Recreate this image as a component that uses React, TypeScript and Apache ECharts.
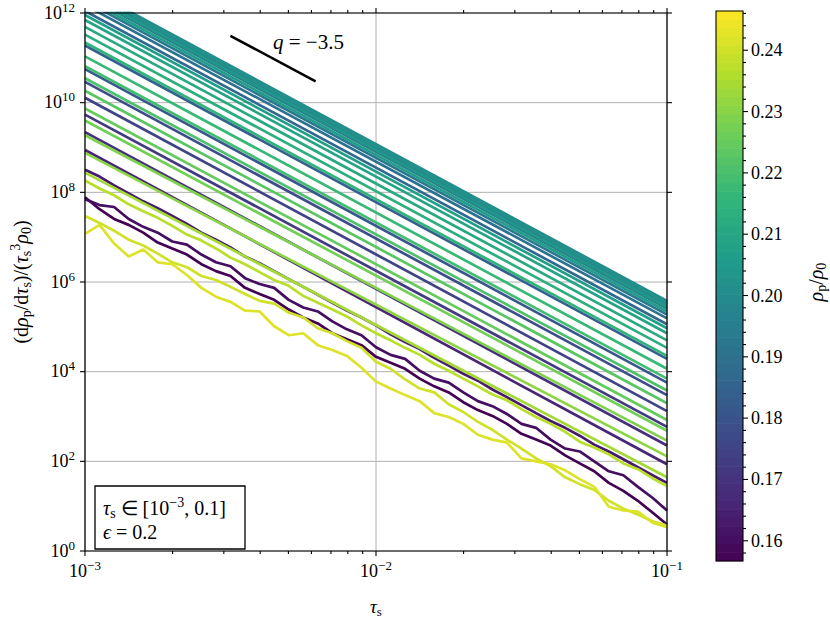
import React, { useEffect, useRef } from 'react';
import * as echarts from 'echarts';

const FONT = 'Liberation Serif';

// ---------------- data ----------------
// tau_s sample grid used by the noisy curves
const TAU = [
  0.001, 0.001122, 0.001259, 0.001413, 0.001585, 0.001778, 0.001995, 0.002239, 0.002512, 0.002818,
  0.003162, 0.003548, 0.003981, 0.004467, 0.005012, 0.005623, 0.00631, 0.007079, 0.007943, 0.008913,
  0.01, 0.01122, 0.01259, 0.01413, 0.01585, 0.01778, 0.01995, 0.02239, 0.02512, 0.02818,
  0.03162, 0.03548, 0.03981, 0.04467, 0.05012, 0.05623, 0.0631, 0.07079, 0.07943, 0.08913, 0.1,
];
const TAU_ENDS = [0.001, 0.1];

// noisy curves (values at TAU)
const CURVE_242 = [1.19e7, 1.88e7, 7.2e6, 3.7e6, 5.3e6, 2.75e6, 2.49e6, 1.43e6, 7.4e5, 4.7e5, 3.6e5, 2.3e5, 2.2e5, 1.03e5, 6.5e4, 7.2e4, 3.9e4, 3.05e4, 2.25e4, 1.22e4, 6.0e3, 4.2e3, 3.0e3, 2.2e3, 1.19e3, 975, 684, 392, 305, 262, 116, 100, 86, 63, 40, 27, 9.7, 8.0, 7.6, 4.3, 3.4];
const CURVE_240 = [2.97e7, 2.08e7, 1.39e7, 8.8e6, 6.5e6, 4.3e6, 2.75e6, 2.14e6, 1.36e6, 1.11e6, 7.8e5, 5.4e5, 3.8e5, 3.3e5, 2.08e5, 1.62e5, 9.3e4, 7.2e4, 4.8e4, 3.4e4, 1.66e4, 1.16e4, 6.7e3, 4.2e3, 3.45e3, 1.88e3, 1.26e3, 757, 505, 305, 193, 116, 78, 44, 31, 23, 13.2, 8.8, 6.5, 4.6, 3.7];
const CURVE_237 = [1.84e8, 1.22e8, 8.6e7, 5.4e7, 3.8e7, 2.7e7, 1.79e7, 1.14e7, 8.4e6, 5.6e6, 3.5e6, 2.49e6, 1.66e6, 1.11e6, 8.2e5, 4.9e5, 3.45e5, 2.43e5, 1.7e5, 1.08e5, 7.2e4, 5.0e4, 3.4e4, 2.37e4, 1.5e4, 1.05e4, 7.0e3, 4.7e3, 3.1e3, 2.3e3, 1.46e3, 975, 684, 456, 275, 203, 143, 90, 67, 42, 28];
const CURVE_163 = [3.2e8, 2.25e8, 1.43e8, 9.5e7, 6.3e7, 4.4e7, 2.97e7, 1.98e7, 1.26e7, 8.8e6, 5.9e6, 3.7e6, 2.62e6, 1.75e6, 1.16e6, 7.8e5, 5.2e5, 3.45e5, 2.3e5, 1.62e5, 1.08e5, 6.8e4, 4.6e4, 3.2e4, 2.03e4, 1.36e4, 9.0e3, 6.3e3, 4.0e3, 2.7e3, 1.79e3, 1.19e3, 796, 559, 373, 236, 166, 111, 74, 49, 33];
const CURVE_160 = [7.0e7, 5.2e7, 4.7e7, 2.55e7, 1.7e7, 1.26e7, 8.0e6, 6.8e6, 4.1e6, 2.75e6, 2.25e6, 1.22e6, 9.0e5, 7.4e5, 4.0e5, 2.7e5, 2.2e5, 1.32e5, 8.8e4, 6.5e4, 3.5e4, 2.37e4, 1.93e4, 1.05e4, 7.0e3, 5.7e3, 3.45e3, 2.2e3, 1.7e3, 1.14e3, 684, 559, 305, 193, 166, 100, 60, 49, 27, 15.4, 8.0];
const CURVE_157 = [7.8e7, 4.2e7, 2.55e7, 1.88e7, 1.26e7, 7.6e6, 5.6e6, 4.1e6, 2.49e6, 1.75e6, 1.36e6, 7.4e5, 5.4e5, 4.0e5, 2.43e5, 1.62e5, 1.19e5, 7.2e4, 5.3e4, 3.9e4, 2.14e4, 1.58e4, 1.16e4, 7.0e3, 4.7e3, 3.45e3, 2.08e3, 1.39e3, 1.03e3, 684, 412, 305, 225, 136, 90, 60, 33, 22, 13.2, 7.2, 3.9];
const NOISY_RHO = [0.242, 0.24, 0.237, 0.163, 0.16, 0.157];
const NOISY_CURVES = [CURVE_242, CURVE_240, CURVE_237, CURVE_163, CURVE_160, CURVE_157];

// smooth power-law curves: value at tau=1e-3 and at tau=0.1
const SMOOTH_RHO = [
  0.2, 0.202, 0.198, 0.204, 0.196, 0.206, 0.193, 0.19, 0.187, 0.207,
  0.209, 0.211, 0.213, 0.215, 0.184, 0.217, 0.219, 0.181, 0.221, 0.178,
  0.223, 0.175, 0.225, 0.172, 0.227, 0.169, 0.229, 0.166, 0.231, 0.234,
];
const SMOOTH_START = [
  3.7e12, 3.4e12, 3.05e12, 2.75e12, 2.5e12, 2.14e12, 1.84e12, 1.5e12, 1.11e12, 9.0e11,
  7.0e11, 4.9e11, 3.3e11, 2.2e11, 1.88e11, 1.08e11, 6.5e10, 5.6e10, 3.5e10, 2.9e10,
  1.84e10, 1.29e10, 7.4e9, 5.4e9, 4.0e9, 2.2e9, 1.88e9, 8.8e8, 7.6e8, 2.75e8,
];
const SMOOTH_END = [
  3.8e5, 3.45e5, 3.1e5, 2.8e5, 2.55e5, 2.2e5, 1.88e5, 1.54e5, 1.14e5, 9.3e4,
  7.2e4, 5.0e4, 3.4e4, 2.25e4, 1.93e4, 1.16e4, 7.0e3, 5.7e3, 3.8e3, 3.0e3,
  1.98e3, 1.32e3, 838, 588, 480, 225, 290, 86, 129, 44,
];

// slope guide q = -3.5
const SLOPE_TAU = [0.00316, 0.0062];
const SLOPE_VAL = [3.1e11, 3.0e10];

// axes
const X_RANGE = [0.001, 0.1];
const Y_RANGE = [1, 1e12];
const X_MAJOR = [0.001, 0.01, 0.1];
const X_MAJOR_EXP = ['\u22123', '\u22122', '\u22121'];
const X_MINOR = [0.002, 0.003, 0.004, 0.005, 0.006, 0.007, 0.008, 0.009, 0.02, 0.03, 0.04, 0.05, 0.06, 0.07, 0.08, 0.09];
const Y_MAJOR = [1, 1e2, 1e4, 1e6, 1e8, 1e10, 1e12];
const Y_MAJOR_EXP = ['0', '2', '4', '6', '8', '10', '12'];
const CB_RANGE = [0.1567, 0.2464];
const CB_TICKS = [0.16, 0.17, 0.18, 0.19, 0.2, 0.21, 0.22, 0.23, 0.24];
const CB_LABELS = ['0.16', '0.17', '0.18', '0.19', '0.20', '0.21', '0.22', '0.23', '0.24'];

// ---------------- colours ----------------
const VIRIDIS = ['#440154', '#482878', '#3e4989', '#31688e', '#26828e', '#1f9e89', '#35b779', '#6ece58', '#b5de2b', '#fde725'];
function hexRgb(h: string) {
  return [parseInt(h.slice(1, 3), 16), parseInt(h.slice(3, 5), 16), parseInt(h.slice(5, 7), 16)];
}
function viridis(t: number) {
  const tt = Math.min(1, Math.max(0, t));
  const p = tt * (VIRIDIS.length - 1);
  const i = Math.min(Math.floor(p), VIRIDIS.length - 2);
  const f = p - i;
  const a = hexRgb(VIRIDIS[i]);
  const b = hexRgb(VIRIDIS[i + 1]);
  const c = a.map((v, k) => Math.round(v + (b[k] - v) * f));
  return `rgb(${c[0]},${c[1]},${c[2]})`;
}
const rhoColor = (r: number) => viridis((r - CB_RANGE[0]) / (CB_RANGE[1] - CB_RANGE[0]));

// ---------------- text styles ----------------
const TICK_RICH = {
  b: { fontFamily: FONT, fontSize: 18, lineHeight: 21, verticalAlign: 'bottom', color: '#000', fill: '#000' },
  s: { fontFamily: FONT, fontSize: 13, lineHeight: 13, verticalAlign: 'top', color: '#000', fill: '#000' },
};
const MATH_RICH = (size: number) => ({
  n: { fontFamily: FONT, fontSize: size, lineHeight: size + 5, verticalAlign: 'middle', color: '#000', fill: '#000' },
  g: { fontFamily: FONT, fontStyle: 'italic', fontSize: size, lineHeight: size + 5, verticalAlign: 'middle', color: '#000', fill: '#000' },
  sub: { fontFamily: FONT, fontSize: Math.round(size * 0.7), lineHeight: Math.round(size * 0.7), verticalAlign: 'bottom', color: '#000', fill: '#000' },
  sup: { fontFamily: FONT, fontSize: Math.round(size * 0.7), lineHeight: Math.round(size * 0.7), verticalAlign: 'top', color: '#000', fill: '#000' },
});

// ---------------- render helpers ----------------
function gridUnder(_p: any, api: any) {
  const children: any[] = [];
  const [xl, yb] = api.coord([X_RANGE[0], Y_RANGE[0]]);
  const [xr, yt] = api.coord([X_RANGE[1], Y_RANGE[1]]);
  const gs = { stroke: '#b0b0b0', lineWidth: 1 };
  X_MAJOR.forEach((v) => {
    const x = api.coord([v, Y_RANGE[0]])[0];
    children.push({ type: 'line', shape: { x1: x, y1: yb, x2: x, y2: yt }, style: gs });
  });
  Y_MAJOR.forEach((v) => {
    const y = api.coord([X_RANGE[0], v])[1];
    children.push({ type: 'line', shape: { x1: xl, y1: y, x2: xr, y2: y }, style: gs });
  });
  return { type: 'group', children };
}

function frameOver(_p: any, api: any) {
  const children: any[] = [];
  const [xl, yb] = api.coord([X_RANGE[0], Y_RANGE[0]]);
  const [xr, yt] = api.coord([X_RANGE[1], Y_RANGE[1]]);
  const ts = { stroke: '#000', lineWidth: 1.1 };
  X_MAJOR.forEach((v, i) => {
    const x = api.coord([v, Y_RANGE[0]])[0];
    children.push({ type: 'line', shape: { x1: x, y1: yb, x2: x, y2: yb + 5 }, style: ts });
    children.push({ type: 'line', shape: { x1: x, y1: yt, x2: x, y2: yt - 5 }, style: ts });
    children.push({
      type: 'text',
      x: x,
      y: yb + 8,
      style: {
        text: `{b|10}{s|${X_MAJOR_EXP[i]}}`,
        rich: TICK_RICH,
        align: 'center',
        textAlign: 'center',
        verticalAlign: 'top',
        textVerticalAlign: 'top',
      },
    });
  });
  X_MINOR.forEach((v) => {
    const x = api.coord([v, Y_RANGE[0]])[0];
    children.push({ type: 'line', shape: { x1: x, y1: yb, x2: x, y2: yb + 3 }, style: ts });
    children.push({ type: 'line', shape: { x1: x, y1: yt, x2: x, y2: yt - 3 }, style: ts });
  });
  Y_MAJOR.forEach((v, i) => {
    const y = api.coord([X_RANGE[0], v])[1];
    children.push({ type: 'line', shape: { x1: xl, y1: y, x2: xl - 5, y2: y }, style: ts });
    children.push({ type: 'line', shape: { x1: xr, y1: y, x2: xr + 5, y2: y }, style: ts });
    children.push({
      type: 'text',
      x: xl - 10,
      y: y - 2,
      style: {
        text: `{b|10}{s|${Y_MAJOR_EXP[i]}}`,
        rich: TICK_RICH,
        align: 'right',
        textAlign: 'right',
        verticalAlign: 'middle',
        textVerticalAlign: 'middle',
      },
    });
  });
  children.push({
    type: 'rect',
    shape: { x: xl, y: yt, width: xr - xl, height: yb - yt },
    style: { fill: 'none', stroke: '#000', lineWidth: 1.2 },
  });
  return { type: 'group', children };
}

function colorbar(_p: any, api: any) {
  const children: any[] = [];
  const [x0, yBot] = api.coord([0, CB_RANGE[0]]);
  const [x1, yTop] = api.coord([1, CB_RANGE[1]]);
  const N = 64;
  for (let i = 0; i < N; i++) {
    const r0 = CB_RANGE[0] + ((CB_RANGE[1] - CB_RANGE[0]) * i) / N;
    const r1 = CB_RANGE[0] + ((CB_RANGE[1] - CB_RANGE[0]) * (i + 1)) / N;
    const ya = api.coord([0, r0])[1];
    const yb = api.coord([0, r1])[1];
    children.push({
      type: 'rect',
      shape: { x: x0, y: yb - 0.3, width: x1 - x0, height: ya - yb + 0.6 },
      style: { fill: rhoColor((r0 + r1) / 2) },
    });
  }
  children.push({
    type: 'rect',
    shape: { x: x0, y: yTop, width: x1 - x0, height: yBot - yTop },
    style: { fill: 'none', stroke: '#000', lineWidth: 1.1 },
  });
  const ts = { stroke: '#000', lineWidth: 1.1 };
  for (let k = 79; k <= 123; k++) {
    if (k % 5 === 0) continue;
    const y = api.coord([1, k * 0.002])[1];
    children.push({ type: 'line', shape: { x1: x1, y1: y, x2: x1 + 3, y2: y }, style: ts });
  }
  CB_TICKS.forEach((v, i) => {
    const y = api.coord([1, v])[1];
    children.push({ type: 'line', shape: { x1: x1, y1: y, x2: x1 + 5, y2: y }, style: ts });
    children.push({
      type: 'text',
      x: x1 + 8,
      y: y,
      style: {
        text: CB_LABELS[i],
        fill: '#000',
        fontFamily: FONT,
        fontSize: 18,
        align: 'left',
        verticalAlign: 'middle',
        textAlign: 'left',
        textVerticalAlign: 'middle',
      },
    });
  });
  return { type: 'group', children };
}

// ---------------- build series ----------------
type LineDef = { rho: number; data: number[][] };
const LINES: LineDef[] = [];
NOISY_RHO.forEach((rho, i) => {
  LINES.push({ rho, data: TAU.map((t, k) => [t, NOISY_CURVES[i][k]]) });
});
SMOOTH_RHO.forEach((rho, i) => {
  LINES.push({ rho, data: [[TAU_ENDS[0], SMOOTH_START[i]], [TAU_ENDS[1], SMOOTH_END[i]]] });
});
LINES.sort((a, b) => a.rho - b.rho);

function buildOption() {
  const series: any[] = [];
  series.push({
    type: 'custom',
    xAxisIndex: 0,
    yAxisIndex: 0,
    data: [[0.01, 100]],
    renderItem: gridUnder,
    clip: false,
    silent: true,
    z: 1,
  });
  LINES.forEach((l) => {
    series.push({
      type: 'line',
      xAxisIndex: 0,
      yAxisIndex: 0,
      data: l.data,
      showSymbol: false,
      symbol: 'none',
      clip: true,
      silent: true,
      lineStyle: { color: rhoColor(l.rho), width: 2.7 },
      itemStyle: { color: rhoColor(l.rho) },
      z: 3,
    });
  });
  series.push({
    type: 'line',
    xAxisIndex: 0,
    yAxisIndex: 0,
    data: SLOPE_TAU.map((t, i) => [t, SLOPE_VAL[i]]),
    showSymbol: false,
    symbol: 'none',
    silent: true,
    lineStyle: { color: '#000', width: 2.6 },
    z: 4,
  });
  series.push({
    type: 'custom',
    xAxisIndex: 0,
    yAxisIndex: 0,
    data: [[0.01, 100]],
    renderItem: frameOver,
    clip: false,
    silent: true,
    z: 5,
  });
  series.push({
    type: 'custom',
    xAxisIndex: 1,
    yAxisIndex: 1,
    data: [[0.5, 0.2]],
    renderItem: colorbar,
    clip: false,
    silent: true,
    z: 5,
  });

  const boxRich = MATH_RICH(20);
  return {
    animation: false,
    backgroundColor: '#fff',
    textStyle: { fontFamily: FONT },
    grid: [
      { left: 83, top: 13, width: 584, height: 546 },
      { left: 716, top: 11, width: 27, height: 550 },
    ],
    xAxis: [
      {
        gridIndex: 0,
        type: 'log',
        logBase: 10,
        min: X_RANGE[0],
        max: X_RANGE[1],
        axisLine: { show: false },
        axisTick: { show: false },
        splitLine: { show: false },
        minorTick: { show: false },
        axisLabel: { show: false },
        name: '{g|τ}{sub|s}',
        nameLocation: 'middle',
        nameGap: 43,
        nameTextStyle: { fontFamily: FONT, rich: MATH_RICH(19) },
      },
      { gridIndex: 1, type: 'value', min: 0, max: 1, show: false },
    ],
    yAxis: [
      {
        gridIndex: 0,
        type: 'log',
        logBase: 10,
        min: Y_RANGE[0],
        max: Y_RANGE[1],
        axisLine: { show: false },
        axisTick: { show: false },
        splitLine: { show: false },
        minorTick: { show: false },
        axisLabel: { show: false },
        name: '{n|(d}{g|ρ}{sub|p}{n|/d}{g|τ}{sub|s}{n|)/(}{g|τ}{sub|s}{sup|3}{g|ρ}{sub|0}{n|)}',
        nameLocation: 'middle',
        nameGap: 52,
        nameRotate: 90,
        nameTextStyle: { fontFamily: FONT, rich: MATH_RICH(20) },
      },
      { gridIndex: 1, type: 'value', min: CB_RANGE[0], max: CB_RANGE[1], show: false },
    ],
    graphic: [
      {
        type: 'rect',
        shape: { x: 95, y: 486, width: 150, height: 63 },
        style: { fill: '#fff', stroke: '#000', lineWidth: 1.3 },
        z: 100,
      },
      {
        type: 'text',
        x: 103,
        y: 508,
        z: 101,
        style: {
          text: '{g|τ}{sub|s}{n| ∈ [10}{sup|−3}{n|, 0.1]}',
          rich: boxRich,
          verticalAlign: 'middle',
          textVerticalAlign: 'middle',
        },
      },
      {
        type: 'text',
        x: 103,
        y: 532,
        z: 101,
        style: {
          text: '{g|ϵ}{n| = 0.2}',
          rich: boxRich,
          verticalAlign: 'middle',
          textVerticalAlign: 'middle',
        },
      },
      {
        type: 'text',
        x: 273,
        y: 42,
        z: 101,
        style: {
          text: '{g|q}{n| = −3.5}',
          rich: MATH_RICH(21),
          verticalAlign: 'middle',
          textVerticalAlign: 'middle',
        },
      },
      {
        type: 'text',
        x: 816,
        y: 282,
        rotation: Math.PI / 2,
        z: 101,
        style: {
          text: '{g|ρ}{sub|p}{n|/}{g|ρ}{sub|0}',
          rich: MATH_RICH(20),
          align: 'center',
          textAlign: 'center',
          verticalAlign: 'middle',
          textVerticalAlign: 'middle',
        },
      },
    ],
    series,
  };
}

export default function App() {
  const ref = useRef<HTMLDivElement>(null);
  useEffect(() => {
    const el = ref.current;
    if (!el) return;
    const chart = echarts.init(el, undefined, { renderer: 'svg' });
    chart.setOption(buildOption() as any);
    return () => chart.dispose();
  }, []);
  return (
    <div
      ref={ref}
      style={{ position: 'absolute', left: 0, top: 0, width: 830, height: 623, background: '#fff' }}
    />
  );
}
